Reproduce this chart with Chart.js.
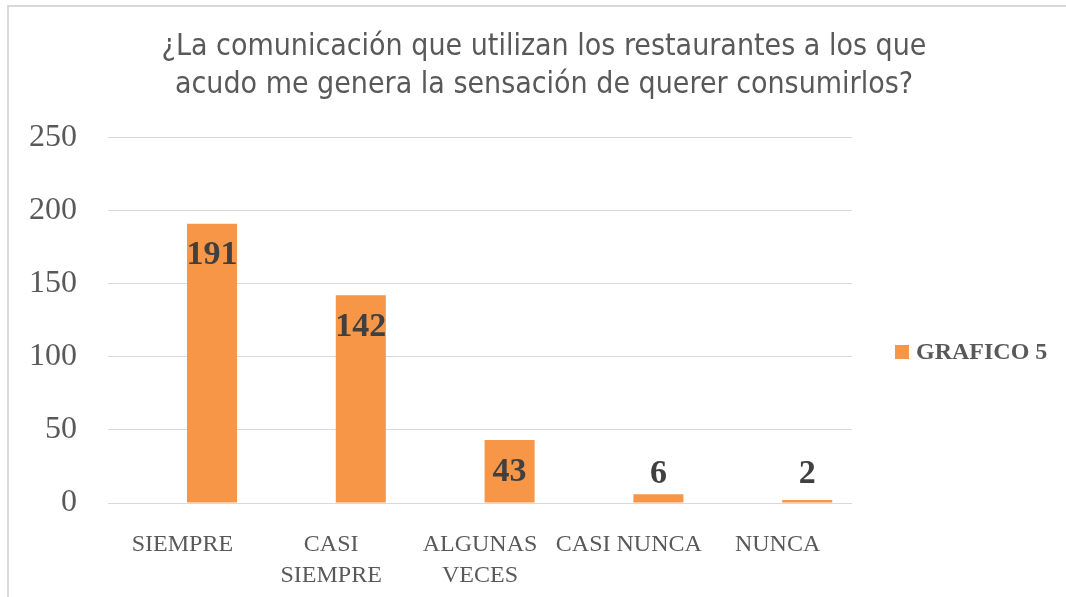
<!DOCTYPE html>
<html>
<head>
<meta charset="utf-8">
<script src="https://cdn.jsdelivr.net/npm/chart.js@4.4.0/dist/chart.umd.min.js"></script>
<style>
  html, body { margin: 0; padding: 0; background: #fff; overflow: hidden; }
  #wrap { position: absolute; left: 0; top: 0; width: 1066px; height: 597px; }
  #frame { position: absolute; left: 7px; top: 5px; width: 1100px; height: 700px;
           border-top: 2px solid #d9d9d9; border-left: 2px solid #d9d9d9; pointer-events: none; }
</style>
</head>
<body>
<div id="wrap"><canvas id="chart" width="1066" height="597"></canvas></div>
<div id="frame"></div>
<script>
// data
const categories = [['SIEMPRE'], ['CASI', 'SIEMPRE'], ['ALGUNAS', 'VECES'], ['CASI NUNCA'], ['NUNCA']];
const values = [191, 142, 43, 6, 2];
const seriesName = 'GRAFICO 5';
const titleLines = ['¿La comunicación que utilizan los restaurantes a los que',
                    'acudo me genera la sensación de querer consumirlos?'];
const yTicks = [0, 50, 100, 150, 200, 250];

const serif = "'Liberation Serif', 'DejaVu Serif', serif";
const narrow = "'Liberation Sans Narrow', 'DejaVu Sans Condensed', 'Liberation Sans', sans-serif";
const orange = '#F79646';

// value labels on the bars
const valueLabels = {
    id: 'valueLabels',
    afterDatasetsDraw(chart) {
        const ctx = chart.ctx;
        const meta = chart.getDatasetMeta(1);
        const base = chart.scales.y.getPixelForValue(0);
        ctx.save();
        ctx.font = 'bold 34px ' + serif;
        ctx.fillStyle = '#404040';
        ctx.textAlign = 'center';
        ctx.textBaseline = 'middle';
        meta.data.forEach((bar, i) => {
            const y = Math.min(bar.y + 32, base - 29);
            ctx.fillText(String(values[i]), bar.x, y);
        });
        ctx.restore();
    }
};

// legend on the right
const sideLegend = {
    id: 'sideLegend',
    afterDraw(chart) {
        const ctx = chart.ctx;
        ctx.save();
        ctx.fillStyle = orange;
        ctx.fillRect(895, 345, 14, 14);
        ctx.font = 'bold 24px ' + serif;
        ctx.fillStyle = '#595959';
        ctx.textAlign = 'left';
        ctx.textBaseline = 'middle';
        ctx.fillText(chart.data.datasets[1].label, 916, 353);
        ctx.restore();
    }
};

new Chart(document.getElementById('chart').getContext('2d'), {
    type: 'bar',
    data: {
        labels: categories,
        datasets: [{
            label: '',
            data: values.map(() => null),
            backgroundColor: 'rgba(0,0,0,0)'
        }, {
            label: seriesName,
            data: values,
            backgroundColor: orange,
            borderWidth: 0
        }]
    },
    options: {
        responsive: false,
        animation: false,
        categoryPercentage: 0.796,
        barPercentage: 0.845,
        layout: { padding: { left: 22, right: 0, top: 0, bottom: 0 } },
        plugins: {
            legend: { display: false },
            tooltip: { enabled: false },
            title: {
                display: true,
                text: titleLines,
                color: '#595959',
                font: { family: narrow, size: 30, weight: 'normal', lineHeight: 1.24 },
                padding: { top: 29, bottom: 34 }
            }
        },
        scales: {
            x: {
                grid: { display: false },
                border: { display: false },
                ticks: {
                    color: '#595959',
                    font: { family: serif, size: 24, lineHeight: 1.3 },
                    padding: 18,
                    maxRotation: 0,
                    autoSkip: false
                },
                afterFit: s => { s.height = 94; }
            },
            y: {
                min: 0,
                max: 250,
                afterBuildTicks: s => { s.ticks = yTicks.map(v => ({ value: v })); },
                grid: { color: '#d9d9d9', lineWidth: 1, drawTicks: false },
                border: { display: false },
                ticks: {
                    color: '#595959',
                    font: { family: serif, size: 32 },
                    padding: 31
                },
                afterFit: s => { s.width = 86; }
            },
            // empty right-hand axis that keeps room for the legend
            side: {
                type: 'linear',
                position: 'right',
                grid: { display: false },
                border: { display: false },
                ticks: { display: false },
                afterFit: s => { s.width = 214; }
            }
        }
    },
    plugins: [valueLabels, sideLegend]
});
</script>
</body>
</html>
